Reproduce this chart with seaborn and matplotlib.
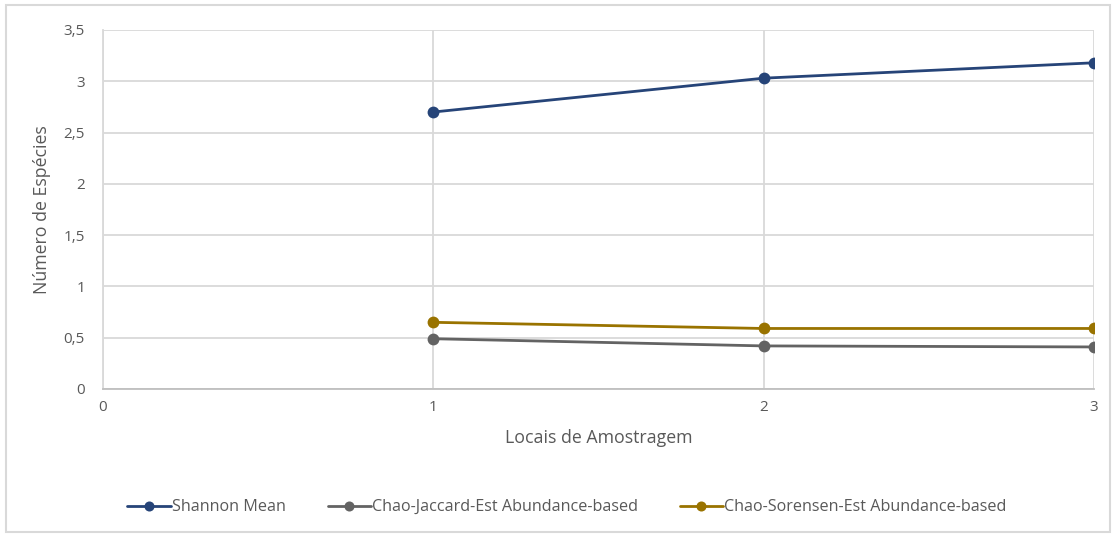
import matplotlib
matplotlib.use("Agg")
import matplotlib.pyplot as plt
from matplotlib.patches import Rectangle
from matplotlib.ticker import FuncFormatter, MultipleLocator
import seaborn as sns
import pandas as pd

# Sampling sites and the diversity / similarity estimates per site
sites = [1, 2, 3]
shannon_mean = [2.70, 3.03, 3.18]
chao_jaccard = [0.49, 0.42, 0.41]
chao_sorensen = [0.65, 0.59, 0.59]

series_names = [
    "Shannon Mean",
    "Chao-Jaccard-Est Abundance-based",
    "Chao-Sorensen-Est Abundance-based",
]
series_colors = ["#264478", "#636363", "#997300"]

x_label = "Locais de Amostragem"
y_label = "Número de Espécies"

df = pd.DataFrame({
    "site": sites * 3,
    "value": shannon_mean + chao_jaccard + chao_sorensen,
    "series": [series_names[0]] * 3 + [series_names[1]] * 3 + [series_names[2]] * 3,
})

sns.set_theme(style="white")
plt.rcParams["font.family"] = ["Open Sans", "DejaVu Sans"]

fig = plt.figure(figsize=(11.16, 5.35), dpi=100)
ax = fig.add_axes([0.0923, 0.2729, 0.8880, 0.6711])

sns.lineplot(
    data=df, x="site", y="value", hue="series",
    hue_order=series_names, palette=series_colors,
    marker="o", markersize=8.5, markeredgewidth=0,
    linewidth=2.0, ax=ax, legend=True, sort=False,
)

ax.set_xlim(0, 3)
ax.set_ylim(0, 3.5)
ax.xaxis.set_major_locator(MultipleLocator(1))
ax.yaxis.set_major_locator(MultipleLocator(0.5))
ax.yaxis.set_major_formatter(FuncFormatter(lambda v, p: f"{v:g}".replace(".", ",")))

grid_color = "#d9d9d9"
ax.grid(True, color=grid_color, linewidth=1.3)
ax.set_axisbelow(True)
for side in ["top", "right"]:
    ax.spines[side].set_visible(False)
ax.spines["left"].set_color(grid_color)
ax.spines["left"].set_linewidth(1.3)
ax.spines["bottom"].set_color("#bfbfbf")
ax.spines["bottom"].set_linewidth(1.3)

ax.tick_params(axis="both", length=0, labelsize=11, colors="#595959")
ax.tick_params(axis="x", pad=8)
ax.tick_params(axis="y", pad=13)

ax.set_xlabel(x_label, fontsize=12.8, color="#595959", labelpad=10)
ax.set_ylabel(y_label, fontsize=12.8, color="#595959", labelpad=9)

handles, labels = ax.get_legend_handles_labels()
ax.get_legend().remove()
fig.legend(
    handles, labels, loc="center", bbox_to_anchor=(0.508, 0.052), ncol=3,
    frameon=False, fontsize=11.6, handlelength=2.7, handletextpad=0.05,
    columnspacing=2.6, labelcolor="#595959", markerscale=0.85,
)

fig.patches.append(Rectangle((0.005, 0.005), 0.99, 0.985, transform=fig.transFigure,
                             fill=False, edgecolor=grid_color, linewidth=1.5))

fig.savefig("out.png", dpi=100, facecolor="white")
